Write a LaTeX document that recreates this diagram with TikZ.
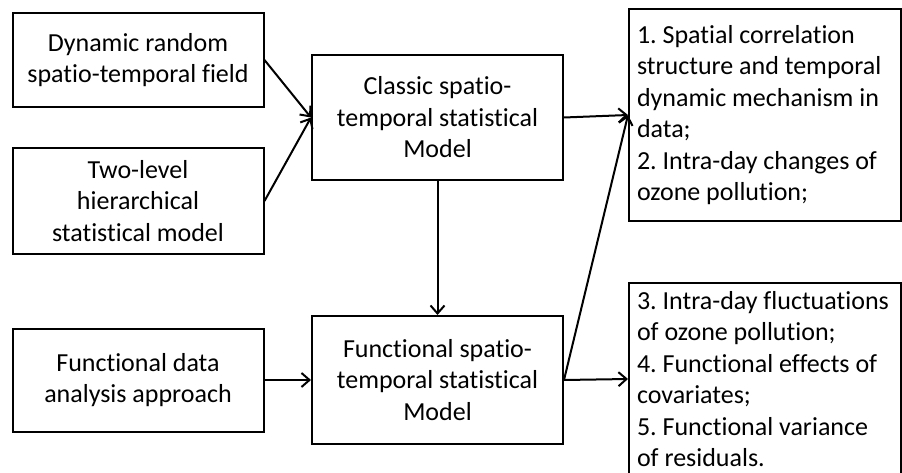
\documentclass[tikz,border=0pt]{standalone}
\usepackage{fontspec}
\setmainfont{Carlito}[Ligatures=NoCommon]
\usepackage{tikz}
\usetikzlibrary{arrows.meta, positioning}
\tikzset{
  block/.style={rectangle, draw=black, line width=2pt, align=center,
    minimum width=251pt, inner sep=0pt,
    font=\fontsize{26}{31.5}\selectfont},
  outblock/.style={rectangle, draw=black, line width=2pt, align=flush left,
    text width=256pt, inner xsep=8pt, inner ysep=0pt,
    font=\fontsize{26}{31.5}\selectfont},
  arrow/.style={-{Straight Barb[length=8pt,width=14pt]}, line width=2pt}
}

\begin{document}
\frenchspacing
\begin{tikzpicture}[x=1pt, y=-1pt]
  \path[use as bounding box, clip] (0,0) rectangle (902,473);

  % Input approaches
  \node[block, minimum height=94pt] (dyn) at (138,60) {Dynamic random\\spatio-temporal field};
  \node[block, minimum height=106pt] (hier) at (138,201) {Two-level\\hierarchical\\statistical model};
  \node[block, minimum height=103pt] (fda) at (138,380) {Functional data\\analysis approach};

  % Models
  \node[block, minimum height=125pt] (classic) at (437.5,117.5) {Classic spatio-\\temporal statistical\\Model};
  \node[block, minimum height=128pt] (func) at (437.5,380) {Functional spatio-\\temporal statistical\\Model};

  % Results
  \node[outblock, minimum height=212pt] (res1) at (765,115) {1. Spatial correlation\\structure and temporal\\dynamic mechanism in\\data;\\2. Intra-day changes of\\ozone pollution;};
  \node[outblock, minimum height=192pt] (res2) at (765,379) {3. Intra-day fluctuations\\of ozone pollution;\\4. Functional effects of\\covariates;\\5. Functional variance\\of residuals.};

  % Connectors
  \draw[arrow] (dyn.east) -- (classic.west);
  \draw[arrow] (hier.east) -- (classic.west);
  \draw[arrow] (classic.south) -- (func.north);
  \draw[arrow] (fda.east) -- (func.west);
  \draw[arrow] (classic.east) -- (res1.west);
  \draw[arrow] (func.east) -- (res1.west);
  \draw[arrow] (func.east) -- (res2.west);
\end{tikzpicture}
\end{document}
